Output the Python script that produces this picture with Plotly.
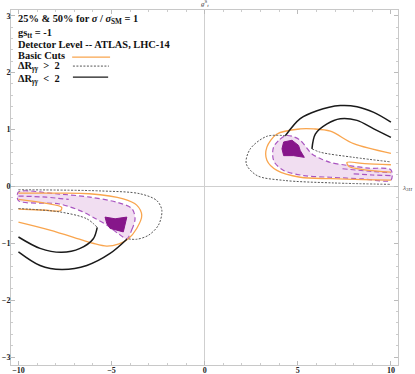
import plotly.graph_objects as go

# contour traces (lambda_3H, g^S_t)
# basic cuts (orange)
basic_ur_x = [10, 8.0, 6.75, 5.85, 5.13, 3.88, 3.34, 3.34, 3.88, 5.13, 6.75, 8.5, 10]
basic_ur_y = [0.58, 0.75, 0.97, 1.01, 1.01, 0.92, 0.69, 0.46, 0.28, 0.16, 0.135, 0.12, 0.11]
basic_ur_tongue_x = [10, 8.6, 7.64, 7.75, 8.6, 10]
basic_ur_tongue_y = [0.38, 0.40, 0.42, 0.35, 0.29, 0.25]
basic_ll_x = [-10, -8, -6.2, -4.37, -3.65, -3.38, -3.65, -4.10, -4.6, -5.26, -6.0, -6.52, -8.31, -10]
basic_ll_y = [-0.12, -0.12, -0.13, -0.22, -0.33, -0.51, -0.74, -0.92, -1.01, -1.05, -1.0, -0.95, -0.77, -0.63]
basic_ll_tongue_x = [-10, -8.5, -7.68, -7.75, -8.5, -10]
basic_ll_tongue_y = [-0.23, -0.30, -0.37, -0.43, -0.42, -0.40]

# Delta R > 2 (dashed)
drgt_ur_x = [4.33, 3.34, 2.45, 2.23, 2.81, 4.24, 6.92, 10]
drgt_ur_y = [0.89, 0.88, 0.66, 0.40, 0.19, 0.105, 0.06, 0.035]
drgt_ur_in_x = [5.76, 6.21, 8.0, 10]
drgt_ur_in_y = [0.66, 0.60, 0.51, 0.43]
drgt_ll_x = [-10, -5.62, -3.47, -2.57, -2.30, -2.48, -3.02, -3.65, -4.18]
drgt_ll_y = [-0.06, -0.08, -0.13, -0.25, -0.42, -0.68, -0.86, -0.93, -0.92]
drgt_ll_in_x = [-10, -7.77, -6.33, -5.77]
drgt_ll_in_y = [-0.39, -0.45, -0.57, -0.72]

# Delta R < 2 (solid)
drlt_ur_out_x = [4.33, 5.13, 6.03, 7.28, 8.18, 9.08, 10]
drlt_ur_out_y = [0.89, 1.19, 1.33, 1.42, 1.40, 1.30, 1.13]
drlt_ur_in_x = [5.76, 5.94, 6.57, 7.28, 8.18, 9.08, 10]
drlt_ur_in_y = [0.66, 0.92, 1.10, 1.19, 1.16, 1.01, 0.86]
drlt_ll_in_x = [-10, -8.84, -7.68, -6.69, -5.98, -5.77]
drlt_ll_in_y = [-0.89, -1.09, -1.16, -1.09, -0.92, -0.72]
drlt_ll_out_x = [-10, -8.84, -7.68, -6.33, -5.08, -4.18]
drlt_ll_out_y = [-1.15, -1.39, -1.46, -1.39, -1.18, -0.93]

# 25% region (light) and 50% region (dark)
r25_ur_x = [4.33, 3.95, 3.70, 3.65, 3.75, 4.24, 5.31, 6.75, 8.5, 10, 10, 8.8, 7.64, 6.75, 6.21, 5.76, 5.13, 4.7, 4.33]
r25_ur_y = [0.89, 0.80, 0.69, 0.55, 0.42, 0.28, 0.19, 0.16, 0.13, 0.11, 0.29, 0.32, 0.37, 0.42, 0.49, 0.57, 0.81, 0.88, 0.89]
r25_ll_x = [-4.18, -3.91, -3.74, -3.91, -4.72, -6.16, -8, -10, -10, -7.8, -6.6, -5.9, -5.26, -4.6, -4.18]
r25_ll_y = [-0.92, -0.76, -0.57, -0.39, -0.28, -0.19, -0.13, -0.10, -0.25, -0.31, -0.44, -0.56, -0.68, -0.84, -0.92]
r25_in_x = [[7.4, 8.7, 10], [8.0, 9.0, 10], [-10, -8.5, -7.3]]
r25_in_y = [[0.31, 0.27, 0.24], [0.22, 0.20, 0.19], [-0.17, -0.19, -0.23]]
r50_ur_x = [4.24, 4.69, 5.04, 5.13, 5.35, 4.77, 4.24, 4.15, 4.24]
r50_ur_y = [0.78, 0.81, 0.72, 0.63, 0.51, 0.54, 0.54, 0.66, 0.78]
r50_ll_x = [-5.35, -4.81, -4.18, -4.27, -4.37, -4.72, -5.08, -5.26, -5.35]
r50_ll_y = [-0.54, -0.57, -0.54, -0.68, -0.80, -0.77, -0.74, -0.65, -0.54]

ORANGE = "#F9A54E"
PINK = "#F1DEF1"
PURPLE_DASH = "#A955C0"
DARK = "#86168A"
GRAY_DASH = "#555555"
FRAME = "#C8C8C8"
SERIF = "Liberation Serif"

fig = go.Figure()


def add_line(x, y, color, width=1.3, dash="solid", fill=None, fillcolor=None, shape="spline"):
    fig.add_trace(
        go.Scatter(
            x=x,
            y=y,
            mode="lines",
            line=dict(color=color, width=width, dash=dash, shape=shape, smoothing=0.9),
            fill=fill,
            fillcolor=fillcolor,
            hoverinfo="skip",
        )
    )


# filled regions first
add_line(r25_ur_x, r25_ur_y, PURPLE_DASH, 1.2, "5px,3px", "toself", PINK)
add_line(r25_ll_x, r25_ll_y, PURPLE_DASH, 1.2, "5px,3px", "toself", PINK)
for xs, ys in zip(r25_in_x, r25_in_y):
    add_line(xs, ys, PURPLE_DASH, 1.2, "5px,3px")
add_line(r50_ur_x, r50_ur_y, DARK, 1, fill="toself", fillcolor=DARK, shape="linear")
add_line(r50_ll_x, r50_ll_y, DARK, 1, fill="toself", fillcolor=DARK, shape="linear")

# basic cuts
add_line(basic_ur_x, basic_ur_y, ORANGE)
add_line(basic_ur_tongue_x, basic_ur_tongue_y, ORANGE)
add_line(basic_ll_x, basic_ll_y, ORANGE)
add_line(basic_ll_tongue_x, basic_ll_tongue_y, ORANGE)

# Delta R > 2
for xs, ys in [(drgt_ur_x, drgt_ur_y), (drgt_ur_in_x, drgt_ur_in_y),
               (drgt_ll_x, drgt_ll_y), (drgt_ll_in_x, drgt_ll_in_y)]:
    add_line(xs, ys, GRAY_DASH, 1, "2px,1.5px")

# Delta R < 2
for xs, ys in [(drlt_ur_out_x, drlt_ur_out_y), (drlt_ur_in_x, drlt_ur_in_y),
               (drlt_ll_in_x, drlt_ll_in_y), (drlt_ll_out_x, drlt_ll_out_y)]:
    add_line(xs, ys, "#1a1a1a", 1.5)

tickfont = dict(family=SERIF, size=8, color="#222", weight="bold")
fig.update_xaxes(
    range=[-10.4, 10.38],
    tickvals=[-10, -5, 0, 5, 10],
    ticks="inside", ticklen=4, tickcolor="#bbbbbb",
    minor=dict(dtick=1, ticks="inside", ticklen=2, tickcolor="#cccccc"),
    showline=True, linecolor=FRAME, linewidth=1, mirror="allticks",
    showgrid=False, zeroline=True, zerolinecolor="#cfcfcf", zerolinewidth=1,
    tickfont=tickfont, ticklabelstandoff=-3, automargin=False,
)
fig.update_yaxes(
    range=[-3.14, 3.1],
    tickvals=[-3, -2, -1, 0, 1, 2, 3],
    ticks="inside", ticklen=4, tickcolor="#bbbbbb",
    minor=dict(dtick=0.2, ticks="inside", ticklen=2, tickcolor="#cccccc"),
    showline=True, linecolor=FRAME, linewidth=1, mirror="allticks",
    showgrid=False, zeroline=True, zerolinecolor="#cfcfcf", zerolinewidth=1,
    tickfont=tickfont, ticklabelstandoff=-2, automargin=False,
)

legend_lines = [
    ("<b>25% &amp; 50% for <i>σ</i> / <i>σ</i><sub>SM</sub> = 1</b>", 0.972),
    ("<b>gs<sub>tt</sub> = -1</b>", 0.935),
    ("<b>Detector Level -- ATLAS, LHC-14</b>", 0.904),
    ("<b>Basic Cuts</b>", 0.873),
    ("<b>ΔR<sub><i>γγ</i></sub>  &gt;  2</b>", 0.840),
    ("<b>ΔR<sub><i>γγ</i></sub>  &lt;  2</b>", 0.805),
]
annotations = [
    dict(text=t, x=0.013, y=y, xref="paper", yref="paper", xanchor="left", yanchor="middle",
         showarrow=False, font=dict(family=SERIF, size=10.4, color="#111"))
    for t, y in legend_lines
]
annotations += [
    dict(text="<i>g</i><sup>S</sup><sub><i>t</i></sub>", x=0.487, y=1.0, xref="paper", yref="paper",
         xanchor="left", yanchor="bottom", showarrow=False,
         font=dict(family=SERIF, size=7, color="#333")),
    dict(text="<i>λ</i><sub><i>3H</i></sub>", x=1.006, y=0.50, xref="paper", yref="paper",
         xanchor="left", yanchor="middle", showarrow=False,
         font=dict(family=SERIF, size=7, color="#333")),
]

shapes = [
    dict(type="line", xref="paper", yref="paper", x0=0.158, x1=0.256, y0=0.867, y1=0.867,
         line=dict(color=ORANGE, width=1.3)),
    dict(type="line", xref="paper", yref="paper", x0=0.160, x1=0.253, y0=0.842, y1=0.842,
         line=dict(color=GRAY_DASH, width=1, dash="2px,1.5px")),
    dict(type="line", xref="paper", yref="paper", x0=0.160, x1=0.251, y0=0.811, y1=0.811,
         line=dict(color="#1a1a1a", width=1.3)),
]

fig.update_layout(
    width=415,
    height=374,
    margin=dict(l=11, r=17, t=10, b=9),
    plot_bgcolor="white",
    paper_bgcolor="white",
    showlegend=False,
    annotations=annotations,
    shapes=shapes,
)

# drop the browser's default page margin so the figure sits at the window's corner
fig.write_html(
    "out.html",
    config={"displayModeBar": False},
    post_script="document.body.style.margin='0';",
)
